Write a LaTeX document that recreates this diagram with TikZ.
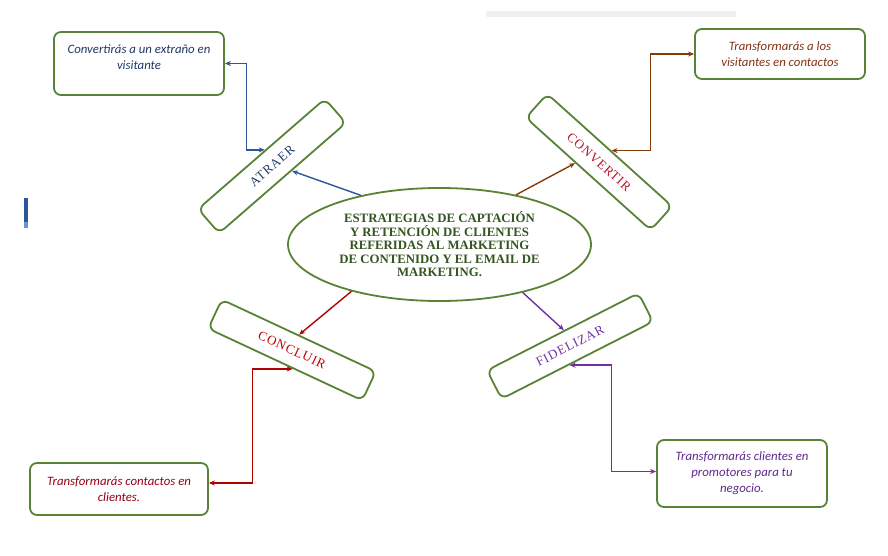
\documentclass[tikz,border=0pt]{standalone}
\usepackage{fontspec}
\setmainfont{Liberation Serif}
\newfontfamily\notefont{Carlito}
\newfontfamily\stepfont[LetterSpace=7]{Liberation Serif}
\usetikzlibrary{shapes.geometric,arrows.meta,calc}

\definecolor{boxgreen}{RGB}{88,130,54}
\definecolor{titlegreen}{RGB}{52,84,32}
\definecolor{atraertext}{RGB}{34,58,104}
\definecolor{atraerline}{RGB}{47,85,151}
\definecolor{convtext}{RGB}{180,22,42}
\definecolor{convline}{RGB}{132,60,12}
\definecolor{context}{RGB}{192,0,0}
\definecolor{conline}{RGB}{176,0,0}
\definecolor{fidtext}{RGB}{112,48,160}
\definecolor{fidline}{RGB}{112,48,160}
\definecolor{noteblue}{RGB}{31,56,100}
\definecolor{notebrown}{RGB}{132,50,20}
\definecolor{notered}{RGB}{150,0,20}
\definecolor{notepurple}{RGB}{96,40,140}
\definecolor{bargray}{RGB}{240,240,243}
\definecolor{markblue}{RGB}{47,85,151}
\definecolor{marklight}{RGB}{100,150,205}

\begin{document}
\begin{tikzpicture}[x=1pt,y=-1pt,
  frame/.style={draw=boxgreen,line width=1.8pt,rounded corners=7pt},
  stepbox/.style={frame,minimum width=168,minimum height=32,inner sep=0pt,font=\stepfont\fontsize{13}{15}\selectfont},
  notebox/.style={frame,align=center,inner sep=2pt,font=\notefont\itshape\fontsize{12.8}{16}\selectfont},
  link/.style={line width=1.4pt,-{Stealth[length=6pt,width=5pt]}},
  twolink/.style={line width=1.4pt,{Stealth[length=6pt,width=5pt]}-{Stealth[length=6pt,width=5pt]}}]

\useasboundingbox (0,0) rectangle (888,556);
\fill[bargray] (486,11) rectangle (736,17);
\fill[markblue] (24,198) rectangle (28,222);
\fill[marklight] (24,222) rectangle (28,228);

\node[ellipse,draw=boxgreen,line width=1.8pt,minimum width=303,minimum height=113,align=center,text=titlegreen,font=\bfseries\fontsize{12.8}{13.5}\selectfont] (core) at (439.5,244.5) {ESTRATEGIAS DE CAPTACIÓN\\Y RETENCIÓN DE CLIENTES\\REFERIDAS AL MARKETING\\DE CONTENIDO Y EL EMAIL DE\\MARKETING.};

\node[stepbox,rotate=41,text=atraertext] (atraer) at (272,166) {ATRAER};
\node[stepbox,rotate=-42,text=convtext] (convertir) at (599,162) {CONVERTIR};
\node[stepbox,rotate=-25,minimum width=170,text=context] (concluir) at (292,350) {CONCLUIR};
\node[stepbox,rotate=27,minimum width=170,text=fidtext] (fidelizar) at (570,346) {FIDELIZAR};

\node[notebox,minimum width=170,minimum height=63,text=noteblue] (visita) at (139,63.5) {\raisebox{6pt}[\height][\depth]{\parbox{164pt}{\centering Convertirás a un extraño en\\visitante}}};
\node[notebox,minimum width=170,minimum height=50,text=notebrown] (contacto) at (780,54) {Transformarás a los\\visitantes en contactos};
\node[notebox,minimum width=178,minimum height=52,text=notered] (cliente) at (119,489) {Transformarás contactos en\\clientes.};
\node[notebox,minimum width=170,minimum height=67,text=notepurple] (promotor) at (742,473.5) {Transformarás clientes en\\promotores para tu\\negocio.};

\draw[link,draw=atraerline] (core.148) -- ($(atraer.south west)!0.57!(atraer.south east)$);
\draw[twolink,draw=atraerline] ($(atraer.north west)!0.53!(atraer.north east)$) -- ++(-18,0) |- (visita.east);

\draw[link,draw=convline] (core.33) -- ($(convertir.south west)!0.40!(convertir.south east)$);
\draw[twolink,draw=convline] ($(convertir.north west)!0.51!(convertir.north east)$) -- ++(39,0) |- (contacto.west);

\draw[link,draw=conline] (core.208) -- ($(concluir.north west)!0.50!(concluir.north east)$);
\draw[twolink,draw=conline] ($(concluir.south west)!0.55!(concluir.south east)$) -- ++(-40,0) |- ([yshift=6pt]cliente.east);

\draw[link,draw=fidline] (core.330) -- ($(fidelizar.north west)!0.51!(fidelizar.north east)$);
\draw[twolink,draw=fidline] ($(fidelizar.south west)!0.447!(fidelizar.south east)$) -- ++(42,0) |- ([yshift=2pt]promotor.west);

\end{tikzpicture}
\end{document}
